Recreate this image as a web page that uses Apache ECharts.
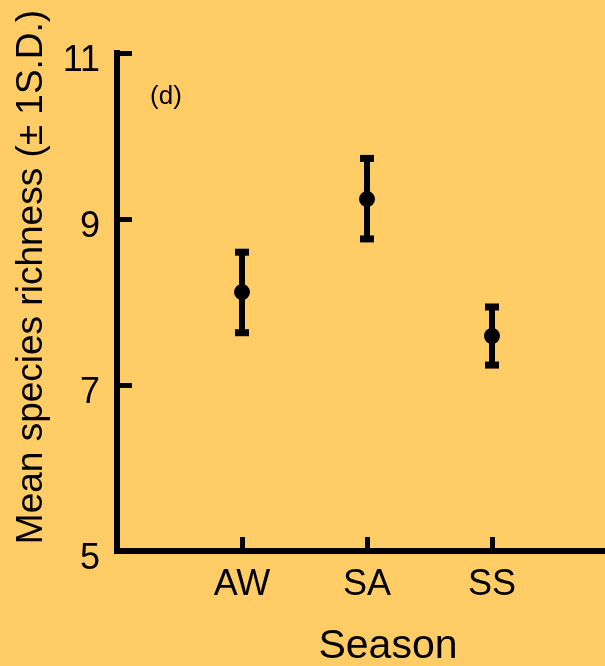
<!DOCTYPE html>
<html>
<head>
<meta charset="utf-8">
<script src="https://cdn.jsdelivr.net/npm/echarts@6/dist/echarts.min.js"></script>
<style>
html,body{margin:0;padding:0;background:#FFCC66;}
#chart{width:605px;height:666px;}
</style>
</head>
<body>
<div id="chart"></div>
<script>
var categories = ['AW', 'SA', 'SS'];
var categoryPositions = [1, 2, 3];
var means = [8.12, 9.24, 7.59];
var upper = [8.60, 9.73, 7.94];
var lower = [7.63, 8.76, 7.24];
var yTicks = [5, 7, 9, 11];
var yTitle = 'Mean species richness (\u00B1 1S.D.)';
var xTitle = 'Season';
var panelLabel = '(d)';

var FONT = '"Liberation Sans", Arial, sans-serif';
var chart = echarts.init(document.getElementById('chart'));

var errData = categoryPositions.map(function (p, i) { return [p, lower[i], upper[i]]; });
var meanData = categoryPositions.map(function (p, i) { return [p, means[i]]; });

chart.setOption({
  backgroundColor: '#FFCC66',
  animation: false,
  grid: { left: 117, right: 0, top: 53, bottom: 115, containLabel: false },
  xAxis: {
    type: 'value',
    min: 0,
    max: 3.904,
    splitLine: { show: false },
    axisLine: { show: true, onZero: false, lineStyle: { color: '#000', width: 6, cap: 'square' } },
    axisTick: { show: true, inside: true, length: 14, customValues: categoryPositions, lineStyle: { color: '#000', width: 5 } },
    axisLabel: {
      customValues: categoryPositions,
      margin: 16,
      color: '#000',
      fontFamily: FONT,
      fontSize: 36,
      formatter: function (v) { var i = categoryPositions.indexOf(v); return i >= 0 ? categories[i] : ''; }
    }
  },
  yAxis: {
    type: 'value',
    min: 5,
    max: 11,
    interval: 2,
    splitLine: { show: false },
    axisLine: { show: true, onZero: false, lineStyle: { color: '#000', width: 6, cap: 'square' } },
    axisTick: { show: true, inside: true, length: 15, lineStyle: { color: '#000', width: 5 } },
    axisLabel: {
      margin: 17,
      color: '#000',
      fontFamily: FONT,
      fontSize: 36,
      verticalAlign: 'top',
      lineHeight: 16,
      customValues: yTicks
    }
  },
  graphic: [
    { type: 'text', x: 32, y: 277, rotation: Math.PI / 2,
      style: { text: yTitle, font: '37px ' + FONT, fill: '#000', align: 'center', verticalAlign: 'middle' } },
    { type: 'text', x: 388, y: 647,
      style: { text: xTitle, font: '41px ' + FONT, fill: '#000', align: 'center', verticalAlign: 'middle' } },
    { type: 'text', x: 166, y: 97,
      style: { text: panelLabel, font: '26px ' + FONT, fill: '#000', align: 'center', verticalAlign: 'middle' } }
  ],
  series: [
    {
      type: 'custom',
      data: errData,
      renderItem: function (params, api) {
        var x = api.value(0);
        var lo = api.coord([x, api.value(1)]);
        var hi = api.coord([x, api.value(2)]);
        var hw = 7;
        return {
          type: 'group',
          children: [
            { type: 'line', shape: { x1: lo[0], y1: lo[1], x2: hi[0], y2: hi[1] }, style: { stroke: '#000', lineWidth: 6 } },
            { type: 'rect', shape: { x: hi[0] - hw, y: hi[1] - 3.5, width: 2 * hw, height: 7 }, style: { fill: '#000' } },
            { type: 'rect', shape: { x: lo[0] - hw, y: lo[1] - 3.5, width: 2 * hw, height: 7 }, style: { fill: '#000' } }
          ]
        };
      },
      z: 2
    },
    {
      type: 'scatter',
      data: meanData,
      symbol: 'circle',
      symbolSize: 16,
      itemStyle: { color: '#000', opacity: 1 },
      z: 3
    }
  ]
});
</script>
</body>
</html>
